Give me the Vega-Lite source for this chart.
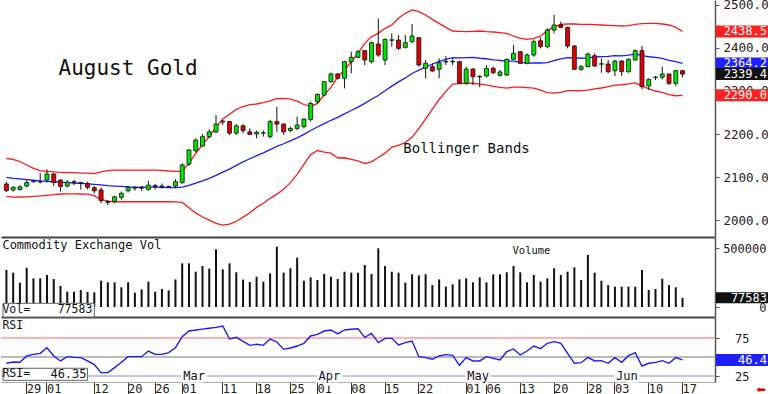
{
"$schema": "https://vega.github.io/schema/vega-lite/v6.json",
"padding": {"top": -2, "left": 0, "right": 0, "bottom": 0},
"spacing": 0,
"bounds": "flush",
"background": "white",
"config": {"view": {"stroke": null}, "font": "DejaVu Sans Mono", "axis": {"labelFont": "DejaVu Sans Mono", "labelColor": "#222", "tickColor": "#555", "domainColor": "#555", "grid": false}},
"data": {"values": [
{"d":"2024-01-24","o":2083.8,"h":2089,"l":2065,"c":2068.3,"u":2143,"m":2099,"b":2055,"v":313600,"r":41.9},
{"d":"2024-01-25","o":2069.8,"h":2079,"l":2066,"c":2076,"u":2141,"m":2097,"b":2053,"v":291000,"r":43.6},
{"d":"2024-01-26","o":2071,"h":2081,"l":2069,"c":2077,"u":2136,"m":2095.5,"b":2053.5,"v":206000,"r":43.2},
{"d":"2024-01-29","o":2079,"h":2093,"l":2076,"c":2087,"u":2128,"m":2094,"b":2054,"v":333000,"r":51.6},
{"d":"2024-01-30","o":2089,"h":2091,"l":2087,"c":2089.5,"u":2120,"m":2092.5,"b":2055,"v":243000,"r":53.8},
{"d":"2024-01-31","o":2088.5,"h":2109,"l":2085,"c":2089,"u":2115,"m":2091,"b":2056,"v":243000,"r":55.1},
{"d":"2024-02-01","o":2093,"h":2118,"l":2087,"c":2107,"u":2113,"m":2090,"b":2057.5,"v":271000,"r":62.6},
{"d":"2024-02-02","o":2107,"h":2109,"l":2079,"c":2087,"u":2112,"m":2089,"b":2059,"v":237000,"r":51.6},
{"d":"2024-02-05","o":2093,"h":2095,"l":2066,"c":2078,"u":2111,"m":2088,"b":2060.5,"v":178000,"r":45},
{"d":"2024-02-06","o":2079,"h":2093,"l":2076,"c":2088,"u":2110,"m":2087,"b":2061,"v":130000,"r":50.7},
{"d":"2024-02-07","o":2089,"h":2093,"l":2081,"c":2087,"u":2110,"m":2086,"b":2061,"v":130000,"r":49.8},
{"d":"2024-02-08","o":2087,"h":2089,"l":2071,"c":2086,"u":2109,"m":2085,"b":2060.5,"v":144000,"r":49.4},
{"d":"2024-02-09","o":2085,"h":2089,"l":2071,"c":2076,"u":2109,"m":2084,"b":2060,"v":127000,"r":45},
{"d":"2024-02-12","o":2075,"h":2079,"l":2062,"c":2068,"u":2108,"m":2083,"b":2056,"v":124000,"r":40.1},
{"d":"2024-02-13","o":2070,"h":2076,"l":2039,"c":2045,"u":2112,"m":2081.5,"b":2048,"v":223000,"r":29.5},
{"d":"2024-02-14","o":2043,"h":2046,"l":2035,"c":2041,"u":2115,"m":2080,"b":2044,"v":209000,"r":29.5},
{"d":"2024-02-15","o":2043,"h":2056,"l":2039,"c":2054,"u":2116,"m":2079,"b":2042.5,"v":209000,"r":36.1},
{"d":"2024-02-16","o":2052.8,"h":2066,"l":2047,"c":2062,"u":2116,"m":2078,"b":2042.5,"v":167000,"r":43.2},
{"d":"2024-02-20","o":2068,"h":2079,"l":2064,"c":2076,"u":2116,"m":2077,"b":2042.5,"v":209000,"r":50.7},
{"d":"2024-02-21","o":2074,"h":2079,"l":2068,"c":2076,"u":2116,"m":2075.9,"b":2042.5,"v":121000,"r":50.7},
{"d":"2024-02-22","o":2076,"h":2079,"l":2068,"c":2074,"u":2116,"m":2076.2,"b":2042.5,"v":150000,"r":50.7},
{"d":"2024-02-23","o":2071,"h":2091,"l":2068,"c":2081,"u":2116,"m":2076.4,"b":2042.5,"v":215000,"r":58.2},
{"d":"2024-02-26","o":2080,"h":2084,"l":2071,"c":2078,"u":2116,"m":2076.5,"b":2042.5,"v":130000,"r":53.8},
{"d":"2024-02-27","o":2078,"h":2085,"l":2073,"c":2079,"u":2115.5,"m":2076.1,"b":2042.5,"v":153000,"r":53.8},
{"d":"2024-02-28","o":2077,"h":2080,"l":2075,"c":2078,"u":2114,"m":2075.5,"b":2042.5,"v":141000,"r":56},
{"d":"2024-02-29","o":2079,"h":2095,"l":2074,"c":2089,"u":2113,"m":2075.5,"b":2042,"v":234000,"r":62.6},
{"d":"2024-03-01","o":2087,"h":2132,"l":2084,"c":2128,"u":2113,"m":2076.6,"b":2041,"v":370000,"r":77.2},
{"d":"2024-03-04","o":2130,"h":2164,"l":2126,"c":2163,"u":2132,"m":2080.4,"b":2028.6,"v":370000,"r":84.7},
{"d":"2024-03-05","o":2161,"h":2190,"l":2157,"c":2186,"u":2155,"m":2085.8,"b":2016.5,"v":299000,"r":86.1},
{"d":"2024-03-06","o":2172,"h":2200,"l":2171,"c":2194,"u":2175,"m":2091.1,"b":2007,"v":347000,"r":87.2},
{"d":"2024-03-07","o":2194,"h":2211,"l":2190,"c":2205,"u":2194.4,"m":2097,"b":1999.6,"v":325000,"r":88.3},
{"d":"2024-03-08","o":2205,"h":2244,"l":2202,"c":2223,"u":2215.4,"m":2103.8,"b":1992.2,"v":489000,"r":89.5},
{"d":"2024-03-11","o":2228,"h":2233,"l":2221,"c":2230,"u":2234.9,"m":2111.5,"b":1988.1,"v":319000,"r":91.4},
{"d":"2024-03-12","o":2229,"h":2231,"l":2198,"c":2202,"u":2246,"m":2118.2,"b":1990.4,"v":370000,"r":74.1},
{"d":"2024-03-13","o":2202,"h":2223,"l":2198,"c":2219,"u":2257.2,"m":2126.9,"b":1996.6,"v":294000,"r":76.3},
{"d":"2024-03-14","o":2219,"h":2223,"l":2202,"c":2208,"u":2263.9,"m":2135.3,"b":2006.7,"v":232000,"r":71},
{"d":"2024-03-15","o":2205,"h":2213,"l":2198,"c":2199,"u":2268.3,"m":2142.5,"b":2016.7,"v":212000,"r":65.7},
{"d":"2024-03-18","o":2200,"h":2208,"l":2190,"c":2204,"u":2269.8,"m":2149.6,"b":2029.4,"v":257000,"r":67.1},
{"d":"2024-03-19","o":2202,"h":2208,"l":2194,"c":2203,"u":2273,"m":2156,"b":2039,"v":215000,"r":65.7},
{"d":"2024-03-20","o":2194,"h":2233,"l":2190,"c":2229,"u":2276.8,"m":2163.6,"b":2050.4,"v":285000,"r":74.1},
{"d":"2024-03-21","o":2229,"h":2263,"l":2205,"c":2223,"u":2282,"m":2171.1,"b":2060.2,"v":511000,"r":70.2},
{"d":"2024-03-22","o":2223,"h":2225,"l":2198,"c":2205,"u":2283,"m":2177.3,"b":2071.6,"v":291000,"r":60.4},
{"d":"2024-03-25","o":2208,"h":2217,"l":2205,"c":2213,"u":2280.9,"m":2184,"b":2087,"v":328000,"r":62.2},
{"d":"2024-03-26","o":2213,"h":2240,"l":2209,"c":2221,"u":2276.3,"m":2191.1,"b":2105.9,"v":418000,"r":64.8},
{"d":"2024-03-27","o":2217,"h":2236,"l":2213,"c":2235,"u":2268.6,"m":2199,"b":2129.4,"v":223000,"r":68.4},
{"d":"2024-03-28","o":2234,"h":2275,"l":2229,"c":2271,"u":2264.1,"m":2208.1,"b":2152.1,"v":251000,"r":78.1},
{"d":"2024-04-01","o":2275,"h":2294,"l":2271,"c":2292,"u":2271,"m":2216.3,"b":2161.6,"v":229000,"r":80.3},
{"d":"2024-04-02","o":2290.7,"h":2323,"l":2288,"c":2321.7,"u":2290.7,"m":2224.2,"b":2157.7,"v":280000,"r":84.7},
{"d":"2024-04-03","o":2321.7,"h":2343,"l":2319,"c":2339.5,"u":2308.5,"m":2231.9,"b":2155.3,"v":257000,"r":86.1},
{"d":"2024-04-04","o":2339.5,"h":2342,"l":2327,"c":2329.4,"u":2333,"m":2238.6,"b":2144.2,"v":237000,"r":80.8},
{"d":"2024-04-05","o":2329.4,"h":2370,"l":2306,"c":2368.2,"u":2348.8,"m":2246.8,"b":2144.8,"v":299000,"r":86.1},
{"d":"2024-04-08","o":2368.2,"h":2391.4,"l":2341,"c":2378.3,"u":2368,"m":2254.6,"b":2141.2,"v":291000,"r":87},
{"d":"2024-04-09","o":2378.3,"h":2395.3,"l":2376,"c":2391.4,"u":2387.6,"m":2262.6,"b":2137.6,"v":291000,"r":87.8},
{"d":"2024-04-10","o":2393.8,"h":2395.3,"l":2360.4,"c":2372.1,"u":2410.8,"m":2271.1,"b":2131.4,"v":356000,"r":76.3},
{"d":"2024-04-11","o":2368.2,"h":2414.7,"l":2364.3,"c":2412.4,"u":2426.4,"m":2280.8,"b":2135.2,"v":280000,"r":81.6},
{"d":"2024-04-12","o":2409.3,"h":2469,"l":2379.8,"c":2383.7,"u":2434,"m":2289.6,"b":2145.2,"v":497000,"r":69.3},
{"d":"2024-04-15","o":2372.1,"h":2422,"l":2360.4,"c":2420.1,"u":2445.7,"m":2300.6,"b":2155.5,"v":347000,"r":75},
{"d":"2024-04-16","o":2418,"h":2434,"l":2403,"c":2419,"u":2453.5,"m":2311.4,"b":2169.3,"v":299000,"r":75},
{"d":"2024-04-17","o":2418.6,"h":2430.2,"l":2395.3,"c":2399.2,"u":2469,"m":2321.2,"b":2173.4,"v":291000,"r":66.2},
{"d":"2024-04-18","o":2401.5,"h":2430.2,"l":2399.2,"c":2412.4,"u":2480.6,"m":2330.4,"b":2180.2,"v":206000,"r":69.3},
{"d":"2024-04-19","o":2414.7,"h":2455.8,"l":2410.8,"c":2427.9,"u":2488.4,"m":2340.6,"b":2192.8,"v":277000,"r":71.5},
{"d":"2024-04-22","o":2424,"h":2424.5,"l":2356.6,"c":2360.4,"u":2484.5,"m":2348.4,"b":2212.3,"v":268000,"r":50.7},
{"d":"2024-04-23","o":2352.7,"h":2372.1,"l":2329.4,"c":2364.3,"u":2476.7,"m":2356,"b":2235.3,"v":277000,"r":49.4},
{"d":"2024-04-24","o":2356.6,"h":2364.3,"l":2344.9,"c":2346.5,"u":2466.6,"m":2362.2,"b":2257.8,"v":186000,"r":47.2},
{"d":"2024-04-25","o":2350.4,"h":2375.9,"l":2329.4,"c":2365.9,"u":2457.3,"m":2368.8,"b":2280.3,"v":234000,"r":51.6},
{"d":"2024-04-26","o":2367.5,"h":2381.4,"l":2360.4,"c":2368.5,"u":2448,"m":2373.6,"b":2299.2,"v":172000,"r":53.4},
{"d":"2024-04-29","o":2368.8,"h":2375.9,"l":2360.4,"c":2367.6,"u":2439.5,"m":2377.4,"b":2316,"v":192000,"r":52.5},
{"d":"2024-04-30","o":2368.2,"h":2368.5,"l":2316.2,"c":2317.8,"u":2438.7,"m":2377.2,"b":2317,"v":234000,"r":39.2},
{"d":"2024-05-01","o":2317.8,"h":2356.6,"l":2313.9,"c":2351.1,"u":2438,"m":2377.8,"b":2318.5,"v":243000,"r":49.4},
{"d":"2024-05-02","o":2351.1,"h":2352.7,"l":2313.9,"c":2333.3,"u":2438.7,"m":2378,"b":2318,"v":209000,"r":45},
{"d":"2024-05-03","o":2333.8,"h":2337.2,"l":2308.5,"c":2332.8,"u":2439.5,"m":2376.2,"b":2316,"v":251000,"r":45},
{"d":"2024-05-06","o":2334.9,"h":2360.4,"l":2331.8,"c":2352.7,"u":2438,"m":2375,"b":2314,"v":209000,"r":50.7},
{"d":"2024-05-07","o":2352.7,"h":2356.6,"l":2339.5,"c":2342.6,"u":2437.2,"m":2372.5,"b":2311,"v":277000,"r":48.5},
{"d":"2024-05-08","o":2336.4,"h":2348.8,"l":2333.3,"c":2344.2,"u":2435.6,"m":2371.1,"b":2308.5,"v":277000,"r":46.3},
{"d":"2024-05-09","o":2337.2,"h":2375.9,"l":2334.9,"c":2373.6,"u":2434,"m":2369.2,"b":2306.5,"v":294000,"r":57.3},
{"d":"2024-05-10","o":2373.6,"h":2407,"l":2372.1,"c":2387.6,"u":2427.9,"m":2369.4,"b":2309,"v":347000,"r":60.9},
{"d":"2024-05-13","o":2391.4,"h":2391.8,"l":2362.8,"c":2364.3,"u":2422.5,"m":2366.6,"b":2309,"v":294000,"r":52.9},
{"d":"2024-05-14","o":2364.3,"h":2387.6,"l":2362,"c":2383.7,"u":2420,"m":2364.8,"b":2308,"v":209000,"r":58.2},
{"d":"2024-05-15","o":2383.7,"h":2420.1,"l":2379.8,"c":2414.7,"u":2422.5,"m":2365.6,"b":2306.5,"v":271000,"r":64.8},
{"d":"2024-05-16","o":2417,"h":2424.8,"l":2399.2,"c":2403.1,"u":2427.9,"m":2365.1,"b":2302,"v":215000,"r":61.3},
{"d":"2024-05-17","o":2403.1,"h":2445.7,"l":2399.2,"c":2441.8,"u":2440.3,"m":2365.8,"b":2296,"v":243000,"r":68.4},
{"d":"2024-05-20","o":2441.8,"h":2476.7,"l":2434,"c":2453.5,"u":2449.6,"m":2370.5,"b":2295,"v":328000,"r":70.6},
{"d":"2024-05-21","o":2453.5,"h":2461.2,"l":2445.7,"c":2448,"u":2455,"m":2374.7,"b":2297,"v":271000,"r":68.4},
{"d":"2024-05-22","o":2448,"h":2449.6,"l":2399.2,"c":2404.6,"u":2455.8,"m":2377.6,"b":2301,"v":299000,"r":55.1},
{"d":"2024-05-23","o":2404.6,"h":2407,"l":2348.8,"c":2350.4,"u":2455.8,"m":2376.8,"b":2301,"v":336000,"r":41.9},
{"d":"2024-05-24","o":2350.4,"h":2360.4,"l":2347.3,"c":2356.6,"u":2455,"m":2376.2,"b":2301,"v":229000,"r":42.7},
{"d":"2024-05-28","o":2356.6,"h":2389.1,"l":2355,"c":2386,"u":2455,"m":2377.1,"b":2302,"v":441000,"r":49.8},
{"d":"2024-05-29","o":2382.1,"h":2387.6,"l":2356.6,"c":2358.1,"u":2454.5,"m":2379.1,"b":2305,"v":291000,"r":45},
{"d":"2024-05-30","o":2362.3,"h":2375.9,"l":2342.6,"c":2363.3,"u":2453.5,"m":2379.7,"b":2307,"v":223000,"r":45.4},
{"d":"2024-05-31","o":2362.8,"h":2372.1,"l":2341.1,"c":2344.9,"u":2452.7,"m":2380.3,"b":2310,"v":186000,"r":41.9},
{"d":"2024-06-03","o":2347.3,"h":2372.1,"l":2334.9,"c":2369.7,"u":2451.9,"m":2382.2,"b":2313.5,"v":172000,"r":49.4},
{"d":"2024-06-04","o":2369.7,"h":2372.1,"l":2334.9,"c":2344.9,"u":2451.1,"m":2381.8,"b":2314.5,"v":172000,"r":43.2},
{"d":"2024-06-05","o":2344.9,"h":2375.9,"l":2342.6,"c":2373.6,"u":2451.9,"m":2383.3,"b":2316.5,"v":172000,"r":52},
{"d":"2024-06-06","o":2372.1,"h":2396.9,"l":2370.5,"c":2393.8,"u":2455,"m":2385.8,"b":2319,"v":172000,"r":56},
{"d":"2024-06-07","o":2393.8,"h":2404.6,"l":2303.8,"c":2310,"u":2456.6,"m":2382.6,"b":2312,"v":314000,"r":38.3},
{"d":"2024-06-10","o":2311.6,"h":2329.4,"l":2302.3,"c":2327.1,"u":2457.3,"m":2379.6,"b":2305,"v":144000,"r":41.9},
{"d":"2024-06-11","o":2331.3,"h":2334.9,"l":2325.6,"c":2332.3,"u":2457.3,"m":2378,"b":2300,"v":153000,"r":43.2},
{"d":"2024-06-12","o":2331.8,"h":2356.6,"l":2327.1,"c":2339.5,"u":2455.8,"m":2375.8,"b":2297,"v":240000,"r":45.4},
{"d":"2024-06-13","o":2339.5,"h":2341.1,"l":2313.9,"c":2317.8,"u":2453.5,"m":2371,"b":2291.5,"v":186000,"r":41.9},
{"d":"2024-06-14","o":2317.8,"h":2348.8,"l":2311.6,"c":2347.3,"u":2448,"m":2368.2,"b":2289,"v":167000,"r":49.4},
{"d":"2024-06-17","o":2347.3,"h":2348.8,"l":2331.8,"c":2339.4,"u":2438.5,"m":2364.2,"b":2290,"v":77583,"r":46.35}
]},
"vconcat": [
{
"width": 714, "height": 237,
"layer": [
{"mark": {"type": "line", "color": "#ff1a1a", "strokeWidth": 1.3},
 "encoding": {"x": {"field": "d", "type": "ordinal", "title": null, "scale": {"type": "band", "paddingInner": 0, "paddingOuter": 0.3, "domain": ["2024-01-24","2024-01-25","2024-01-26","2024-01-29","2024-01-30","2024-01-31","2024-02-01","2024-02-02","2024-02-05","2024-02-06","2024-02-07","2024-02-08","2024-02-09","2024-02-12","2024-02-13","2024-02-14","2024-02-15","2024-02-16","2024-02-20","2024-02-21","2024-02-22","2024-02-23","2024-02-26","2024-02-27","2024-02-28","2024-02-29","2024-03-01","2024-03-04","2024-03-05","2024-03-06","2024-03-07","2024-03-08","2024-03-11","2024-03-12","2024-03-13","2024-03-14","2024-03-15","2024-03-18","2024-03-19","2024-03-20","2024-03-21","2024-03-22","2024-03-25","2024-03-26","2024-03-27","2024-03-28","2024-04-01","2024-04-02","2024-04-03","2024-04-04","2024-04-05","2024-04-08","2024-04-09","2024-04-10","2024-04-11","2024-04-12","2024-04-15","2024-04-16","2024-04-17","2024-04-18","2024-04-19","2024-04-22","2024-04-23","2024-04-24","2024-04-25","2024-04-26","2024-04-29","2024-04-30","2024-05-01","2024-05-02","2024-05-03","2024-05-06","2024-05-07","2024-05-08","2024-05-09","2024-05-10","2024-05-13","2024-05-14","2024-05-15","2024-05-16","2024-05-17","2024-05-20","2024-05-21","2024-05-22","2024-05-23","2024-05-24","2024-05-28","2024-05-29","2024-05-30","2024-05-31","2024-06-03","2024-06-04","2024-06-05","2024-06-06","2024-06-07","2024-06-10","2024-06-11","2024-06-12","2024-06-13","2024-06-14","2024-06-17","2024-06-18","2024-06-20","2024-06-21","2024-06-24"]}, "axis": {"labels": false, "ticks": false, "domain": true, "domainColor": "#444", "domainWidth": 2}},
  "y": {"field": "u", "type": "quantitative", "title": null, "scale": {"domain": [1960.5, 2511.6], "nice": false, "zero": false}, "axis": {"orient": "right", "values": [2000, 2100, 2200, 2300, 2400, 2500], "format": ".1f", "tickSize": 4, "labelPadding": 4, "labelAlign": "left", "labelBaseline": "middle", "labelFontSize": 12.5, "domainWidth": 1.5}}}},
{"mark": {"type": "line", "color": "#ff1a1a", "strokeWidth": 1.3},
 "encoding": {"x": {"field": "d", "type": "ordinal"}, "y": {"field": "b", "type": "quantitative", "title": null}}},
{"mark": {"type": "line", "color": "#1a1aff", "strokeWidth": 1.3},
 "encoding": {"x": {"field": "d", "type": "ordinal"}, "y": {"field": "m", "type": "quantitative", "title": null}}},
{"mark": {"type": "rule", "color": "#111", "strokeWidth": 1},
 "encoding": {"x": {"field": "d", "type": "ordinal"}, "y": {"field": "l", "type": "quantitative", "title": null}, "y2": {"field": "h"}}},
{"mark": {"type": "bar", "width": 4, "stroke": "#111", "strokeWidth": 0.8},
 "encoding": {"x": {"field": "d", "type": "ordinal"}, "y": {"field": "o", "type": "quantitative", "title": null}, "y2": {"field": "c"},
  "fill": {"condition": {"test": "datum.c >= datum.o", "value": "#00e600"}, "value": "#e00000"}}},
{"data": {"values": [{"t": "August Gold"}]},
 "mark": {"type": "text", "align": "left", "baseline": "middle", "fontSize": 21, "dx": -2, "color": "#111"},
 "encoding": {"x": {"datum": "2024-02-05", "type": "ordinal"}, "y": {"datum": 2352, "type": "quantitative"}, "text": {"field": "t"}}},
{"data": {"values": [{"t": "Bollinger Bands"}]},
 "mark": {"type": "text", "align": "left", "baseline": "middle", "fontSize": 14, "dx": -2, "color": "#111"},
 "encoding": {"x": {"datum": "2024-04-18", "type": "ordinal"}, "y": {"datum": 2166, "type": "quantitative"}, "text": {"field": "t"}}},
{"transform": [{"filter": "datum.d == '2024-06-17'"}, {"fold": ["u", "m", "c", "b"], "as": ["k", "val"]}],
 "mark": {"type": "rule", "x": {"expr": "width + 1"}, "x2": {"expr": "width + 54"}, "strokeWidth": 12},
 "encoding": {"y": {"field": "val", "type": "quantitative", "title": null},
  "color": {"field": "k", "type": "nominal", "legend": null, "scale": {"domain": ["u", "m", "c", "b"], "range": ["#ff2020", "#2020ff", "#111111", "#ff2020"]}}}},
{"transform": [{"filter": "datum.d == '2024-06-17'"}, {"fold": ["u", "m", "c", "b"], "as": ["k", "val"]}],
 "mark": {"type": "text", "x": {"expr": "width + 52"}, "align": "right", "baseline": "middle", "fontSize": 12, "fill": "white"},
 "encoding": {"y": {"field": "val", "type": "quantitative", "title": null}, "text": {"field": "val", "type": "quantitative", "format": ".1f"}}}
]
},
{
"width": 714, "height": 80,
"layer": [
{"mark": {"type": "bar", "width": 2, "color": "#111"},
 "encoding": {"x": {"field": "d", "type": "ordinal", "title": null, "scale": {"type": "band", "paddingInner": 0, "paddingOuter": 0.3, "domain": ["2024-01-24","2024-01-25","2024-01-26","2024-01-29","2024-01-30","2024-01-31","2024-02-01","2024-02-02","2024-02-05","2024-02-06","2024-02-07","2024-02-08","2024-02-09","2024-02-12","2024-02-13","2024-02-14","2024-02-15","2024-02-16","2024-02-20","2024-02-21","2024-02-22","2024-02-23","2024-02-26","2024-02-27","2024-02-28","2024-02-29","2024-03-01","2024-03-04","2024-03-05","2024-03-06","2024-03-07","2024-03-08","2024-03-11","2024-03-12","2024-03-13","2024-03-14","2024-03-15","2024-03-18","2024-03-19","2024-03-20","2024-03-21","2024-03-22","2024-03-25","2024-03-26","2024-03-27","2024-03-28","2024-04-01","2024-04-02","2024-04-03","2024-04-04","2024-04-05","2024-04-08","2024-04-09","2024-04-10","2024-04-11","2024-04-12","2024-04-15","2024-04-16","2024-04-17","2024-04-18","2024-04-19","2024-04-22","2024-04-23","2024-04-24","2024-04-25","2024-04-26","2024-04-29","2024-04-30","2024-05-01","2024-05-02","2024-05-03","2024-05-06","2024-05-07","2024-05-08","2024-05-09","2024-05-10","2024-05-13","2024-05-14","2024-05-15","2024-05-16","2024-05-17","2024-05-20","2024-05-21","2024-05-22","2024-05-23","2024-05-24","2024-05-28","2024-05-29","2024-05-30","2024-05-31","2024-06-03","2024-06-04","2024-06-05","2024-06-06","2024-06-07","2024-06-10","2024-06-11","2024-06-12","2024-06-13","2024-06-14","2024-06-17","2024-06-18","2024-06-20","2024-06-21","2024-06-24"]}, "axis": {"labels": false, "ticks": false, "domain": true, "domainColor": "#444", "domainWidth": 2}},
  "y": {"field": "v", "type": "quantitative", "title": null, "scale": {"domain": [-84750, 593250], "nice": false, "zero": false}, "axis": {"orient": "right", "values": [0, 250000, 500000], "format": "d", "tickSize": 4, "labelPadding": 47, "labelAlign": "right", "labelBaseline": "middle", "labelFontSize": 12, "domainWidth": 1.5}},
  "y2": {"datum": 0}}},
{"data": {"values": [{"t": "Commodity Exchange Vol"}]},
 "mark": {"type": "text", "align": "left", "baseline": "middle", "fontSize": 12, "dx": -4, "color": "#111"},
 "encoding": {"x": {"datum": "2024-01-24", "type": "ordinal"}, "y": {"datum": 525000, "type": "quantitative"}, "text": {"field": "t"}}},
{"data": {"values": [{"t": "Volume"}]},
 "mark": {"type": "text", "align": "left", "baseline": "middle", "fontSize": 10.5, "dx": -1, "color": "#111"},
 "encoding": {"x": {"datum": "2024-05-10", "type": "ordinal"}, "y": {"datum": 474000, "type": "quantitative"}, "text": {"field": "t"}}},
{"data": {"values": [{"t": "Vol="}]},
 "mark": {"type": "rect", "fill": "white", "stroke": "#666", "strokeWidth": 1},
 "encoding": {"x": {"datum": "2024-01-24", "type": "ordinal", "bandPosition": 0}, "x2": {"datum": "2024-02-12"}, "y": {"datum": -84750, "type": "quantitative"}, "y2": {"datum": 31000}}},
{"data": {"values": [{"t": "Vol="}]},
 "mark": {"type": "text", "align": "left", "baseline": "middle", "fontSize": 11.5, "dx": -4, "color": "#111"},
 "encoding": {"x": {"datum": "2024-01-24", "type": "ordinal"}, "y": {"datum": -23000, "type": "quantitative"}, "text": {"field": "t"}}},
{"transform": [{"filter": "datum.d == '2024-06-17'"}],
 "mark": {"type": "text", "align": "right", "baseline": "middle", "fontSize": 11.5, "dx": -2, "color": "#111"},
 "encoding": {"x": {"datum": "2024-02-12", "type": "ordinal"}, "y": {"datum": -23000, "type": "quantitative"}, "text": {"field": "v", "type": "quantitative", "format": "d"}}},
{"transform": [{"filter": "datum.d == '2024-06-17'"}],
 "mark": {"type": "rule", "x": {"expr": "width + 1"}, "x2": {"expr": "width + 54"}, "strokeWidth": 11, "color": "#111"},
 "encoding": {"y": {"field": "v", "type": "quantitative", "title": null}}},
{"transform": [{"filter": "datum.d == '2024-06-17'"}],
 "mark": {"type": "text", "x": {"expr": "width + 52"}, "align": "right", "baseline": "middle", "fontSize": 12, "fill": "white"},
 "encoding": {"y": {"field": "v", "type": "quantitative", "title": null}, "text": {"field": "v", "type": "quantitative", "format": "d"}}}
]
},
{
"width": 714, "height": 65,
"layer": [
{"mark": {"type": "rule", "color": "#ffb0b0", "strokeWidth": 1},
 "encoding": {"y": {"datum": 75, "type": "quantitative", "title": null, "scale": {"domain": [17.1, 103.3], "nice": false, "zero": false}, "axis": {"orient": "right", "values": [25, 50, 75], "tickSize": 4, "labelPadding": 30, "labelAlign": "right", "labelBaseline": "middle", "labelFontSize": 12, "domainWidth": 1.5}}}},
{"mark": {"type": "rule", "color": "#bbbbbb", "strokeWidth": 1},
 "encoding": {"y": {"datum": 50, "type": "quantitative"}}},
{"mark": {"type": "rule", "color": "#c4c4f4", "strokeWidth": 1.5},
 "encoding": {"y": {"datum": 25, "type": "quantitative"}}},
{"mark": {"type": "line", "color": "#1a1aff", "strokeWidth": 1.4},
 "encoding": {"x": {"field": "d", "type": "ordinal", "title": null, "scale": {"type": "band", "paddingInner": 0, "paddingOuter": 0.3, "domain": ["2024-01-24","2024-01-25","2024-01-26","2024-01-29","2024-01-30","2024-01-31","2024-02-01","2024-02-02","2024-02-05","2024-02-06","2024-02-07","2024-02-08","2024-02-09","2024-02-12","2024-02-13","2024-02-14","2024-02-15","2024-02-16","2024-02-20","2024-02-21","2024-02-22","2024-02-23","2024-02-26","2024-02-27","2024-02-28","2024-02-29","2024-03-01","2024-03-04","2024-03-05","2024-03-06","2024-03-07","2024-03-08","2024-03-11","2024-03-12","2024-03-13","2024-03-14","2024-03-15","2024-03-18","2024-03-19","2024-03-20","2024-03-21","2024-03-22","2024-03-25","2024-03-26","2024-03-27","2024-03-28","2024-04-01","2024-04-02","2024-04-03","2024-04-04","2024-04-05","2024-04-08","2024-04-09","2024-04-10","2024-04-11","2024-04-12","2024-04-15","2024-04-16","2024-04-17","2024-04-18","2024-04-19","2024-04-22","2024-04-23","2024-04-24","2024-04-25","2024-04-26","2024-04-29","2024-04-30","2024-05-01","2024-05-02","2024-05-03","2024-05-06","2024-05-07","2024-05-08","2024-05-09","2024-05-10","2024-05-13","2024-05-14","2024-05-15","2024-05-16","2024-05-17","2024-05-20","2024-05-21","2024-05-22","2024-05-23","2024-05-24","2024-05-28","2024-05-29","2024-05-30","2024-05-31","2024-06-03","2024-06-04","2024-06-05","2024-06-06","2024-06-07","2024-06-10","2024-06-11","2024-06-12","2024-06-13","2024-06-14","2024-06-17","2024-06-18","2024-06-20","2024-06-21","2024-06-24"]},
   "axis": {"values": ["2024-01-29","2024-02-01","2024-02-12","2024-02-20","2024-02-26","2024-03-01","2024-03-11","2024-03-18","2024-03-25","2024-04-01","2024-04-08","2024-04-15","2024-04-22","2024-05-01","2024-05-06","2024-05-13","2024-05-20","2024-05-28","2024-06-03","2024-06-10","2024-06-17"], "labelExpr": "substring(datum.value, 8, 10)", "labelAlign": "left", "labelBaseline": "top", "labelDx": 2, "labelPadding": -11, "tickSize": 12, "tickColor": "#333", "labelFontSize": 12, "labelOverlap": false, "domain": true, "domainColor": "#aaaaaa", "domainWidth": 1, "labelAngle": 0}},
  "y": {"field": "r", "type": "quantitative", "title": null}}},
{"data": {"values": [{"d": "2024-03-01", "t": "Mar"}, {"d": "2024-04-01", "t": "Apr"}, {"d": "2024-05-01", "t": "May"}, {"d": "2024-06-03", "t": "Jun"}]},
 "mark": {"type": "text", "align": "left", "baseline": "middle", "fontSize": 12, "dx": 1, "fill": "white", "stroke": "white", "strokeWidth": 5},
 "encoding": {"x": {"field": "d", "type": "ordinal"}, "y": {"datum": 25, "type": "quantitative"}, "text": {"field": "t"}}},
{"data": {"values": [{"d": "2024-03-01", "t": "Mar"}, {"d": "2024-04-01", "t": "Apr"}, {"d": "2024-05-01", "t": "May"}, {"d": "2024-06-03", "t": "Jun"}]},
 "mark": {"type": "text", "align": "left", "baseline": "middle", "fontSize": 12, "dx": 1, "fill": "#111"},
 "encoding": {"x": {"field": "d", "type": "ordinal"}, "y": {"datum": 25, "type": "quantitative"}, "text": {"field": "t"}}},
{"data": {"values": [{"t": "RSI"}]},
 "mark": {"type": "text", "align": "left", "baseline": "middle", "fontSize": 11.5, "dx": -4, "color": "#111"},
 "encoding": {"x": {"datum": "2024-01-24", "type": "ordinal"}, "y": {"datum": 91, "type": "quantitative"}, "text": {"field": "t"}}},
{"data": {"values": [{"t": "RSI="}]},
 "mark": {"type": "rect", "fill": "white", "stroke": "#666", "strokeWidth": 1},
 "encoding": {"x": {"datum": "2024-01-24", "type": "ordinal", "bandPosition": 0}, "x2": {"datum": "2024-02-09"}, "y": {"datum": 19.3, "type": "quantitative"}, "y2": {"datum": 35.3}}},
{"data": {"values": [{"t": "RSI="}]},
 "mark": {"type": "text", "align": "left", "baseline": "middle", "fontSize": 11.5, "dx": -4, "color": "#111"},
 "encoding": {"x": {"datum": "2024-01-24", "type": "ordinal"}, "y": {"datum": 27.5, "type": "quantitative"}, "text": {"field": "t"}}},
{"transform": [{"filter": "datum.d == '2024-06-17'"}],
 "mark": {"type": "text", "align": "right", "baseline": "middle", "fontSize": 12, "dx": -1, "color": "#111"},
 "encoding": {"x": {"datum": "2024-02-09", "type": "ordinal"}, "y": {"datum": 27.5, "type": "quantitative"}, "text": {"field": "r", "type": "quantitative", "format": ".2f"}}},
{"transform": [{"filter": "datum.d == '2024-06-17'"}],
 "mark": {"type": "rule", "x": {"expr": "width + 1"}, "x2": {"expr": "width + 54"}, "strokeWidth": 12, "color": "#2020ff"},
 "encoding": {"y": {"field": "r", "type": "quantitative", "title": null}}},
{"transform": [{"filter": "datum.d == '2024-06-17'"}],
 "mark": {"type": "text", "x": {"expr": "width + 52"}, "align": "right", "baseline": "middle", "fontSize": 12, "fill": "white"},
 "encoding": {"y": {"field": "r", "type": "quantitative", "title": null}, "text": {"field": "r", "type": "quantitative", "format": ".1f"}}},
{"data": {"values": [{"t": "⬅"}]},
 "mark": {"type": "text", "align": "center", "baseline": "middle", "fontSize": 11, "fill": "#e00000", "font": "DejaVu Sans", "x": {"expr": "width + 46"}},
 "encoding": {"y": {"datum": 6.5, "type": "quantitative"}, "text": {"field": "t"}}}
]
}
]
}
